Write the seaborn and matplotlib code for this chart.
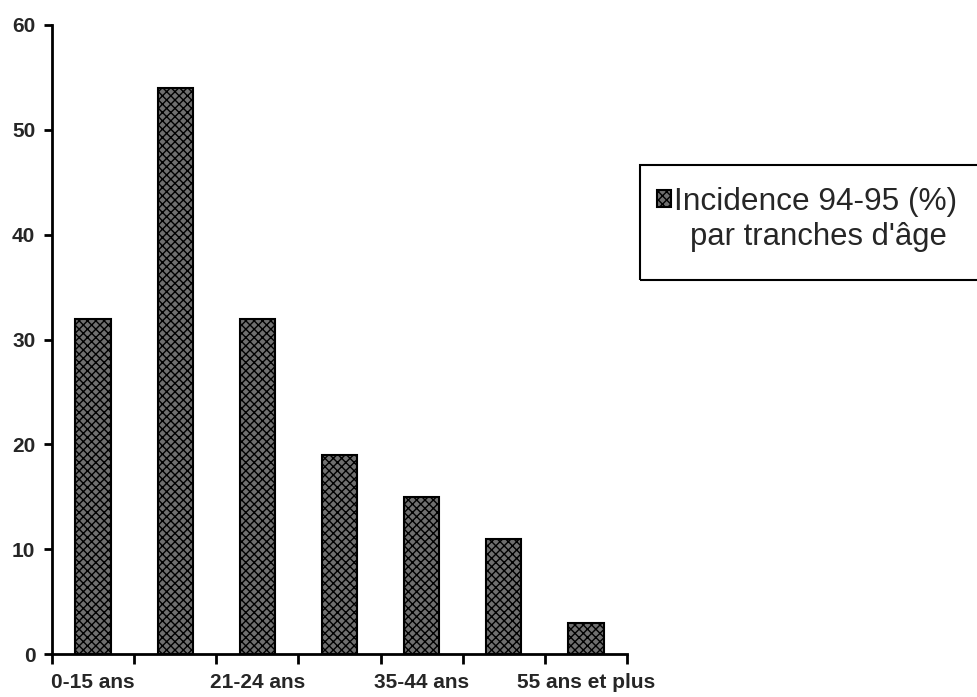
import numpy as np
import pandas as pd
import matplotlib
matplotlib.use("Agg")
import matplotlib.pyplot as plt
import seaborn as sns
from matplotlib.patches import Rectangle

# data
age_groups = ["0-15 ans", "16-20 ans", "21-24 ans", "25-34 ans",
              "35-44 ans", "45-54 ans", "55 ans et plus"]
incidence = [32, 54, 32, 19, 15, 11, 3]
shown_labels = ["0-15 ans", "", "21-24 ans", "", "35-44 ans", "", "55 ans et plus"]
legend_line1 = "Incidence 94-95 (%)"
legend_line2 = "par tranches d'âge"

df = pd.DataFrame({"age": age_groups, "incidence": incidence})

sns.set_style("ticks")
plt.rcParams["font.family"] = ["Liberation Sans", "DejaVu Sans"]
plt.rcParams["hatch.linewidth"] = 1.0

W, H = 977, 697
fig = plt.figure(figsize=(W / 100, H / 100), dpi=100)
ax = fig.add_axes([52 / W, 43 / H, 575 / W, 629 / H])

sns.barplot(data=df, x="age", y="incidence", ax=ax, width=0.43,
            color="#6f6f6f", edgecolor="black", linewidth=1.5,
            hatch="xxxx", saturation=1)

ax.set_ylim(0, 60)
ax.set_xlim(-0.5, len(age_groups) - 0.5)
ax.set_yticks(np.arange(0, 61, 10))
ax.set_yticklabels([str(v) for v in range(0, 61, 10)],
                   fontsize=15, fontweight="bold")

# tick marks between categories, labels under every other bar
ax.set_xticks(np.arange(-0.5, len(age_groups), 1.0))
ax.set_xticklabels([])
ax.set_xticks(np.arange(len(age_groups)), minor=True)
ax.set_xticklabels(shown_labels, minor=True, fontsize=15, fontweight="bold")
ax.tick_params(axis="x", which="minor", length=0, pad=14)
ax.tick_params(axis="x", which="major", length=7, width=2, direction="out",
               color="black")
ax.tick_params(axis="y", length=6, width=2, direction="out", color="black",
               pad=6)

ax.set_xlabel("")
ax.set_ylabel("")
for side in ["top", "right"]:
    ax.spines[side].set_visible(False)
for side in ["left", "bottom"]:
    ax.spines[side].set_linewidth(2)
    ax.spines[side].set_color("black")

# legend box
fig.patches.append(Rectangle((640 / W, 1 - 280 / H), 340 / W, 115 / H,
                             transform=fig.transFigure, fill=False,
                             edgecolor="black", linewidth=1.5))
leg = fig.legend([ax.patches[0]], [legend_line1], loc="upper left",
                 bbox_to_anchor=(657 / W, 1 - 187 / H), fontsize=22.8,
                 frameon=False, handlelength=0.43, handleheight=0.43,
                 handletextpad=0.12, borderpad=0, borderaxespad=0)
fig.text(818 / W, 1 - 237 / H, legend_line2, fontsize=22.3,
         ha="center", va="center")

fig.savefig("out.png", dpi=100)
